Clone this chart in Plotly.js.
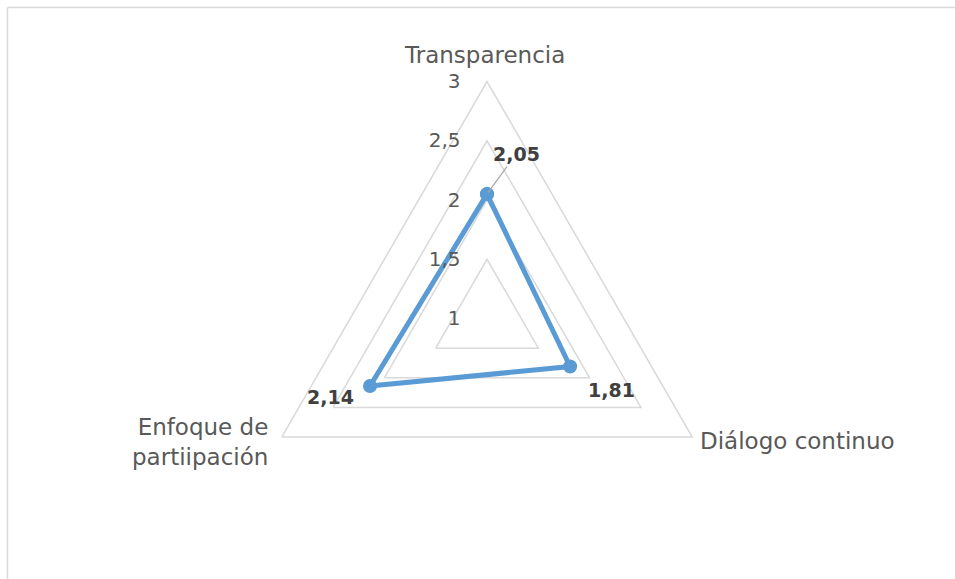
<!DOCTYPE html>
<html>
<head>
<meta charset="utf-8">
<script src="https://cdn.plot.ly/plotly-3.0.1.min.js"></script>
<style>html,body{margin:0;padding:0;background:#fff;}#chart{width:955px;height:579px;}</style>
</head>
<body>
<div id="chart"></div>
<script>
var categories = ['Transparencia', 'Diálogo continuo', 'Enfoque de partiipación'];
var categoryLabels = ['Transparencia', 'Diálogo continuo', 'Enfoque de<br>partiipación'];
var values = [2.05, 1.81, 2.14];
var valueLabels = ['2,05', '1,81', '2,14'];
var radialTicks = [1, 1.5, 2, 2.5, 3];

var W = 955, H = 579;
var cxPx = 487, cyPx = 318.5, Rpx = 237;
var rMin = 1, rMax = 3;
var domX = [(cxPx - Rpx) / W, (cxPx + Rpx) / W];
var domY = [1 - (cyPx + Rpx) / H, 1 - (cyPx - Rpx) / H];

// map a data value on category index i to paper coords (same polar geometry as the subplot)
function toPaper(r, i) {
  var ang = (90 - i * 360 / categories.length) * Math.PI / 180;
  var d = (r - rMin) / (rMax - rMin) * Rpx;
  return {x: (cxPx + d * Math.cos(ang)) / W, y: 1 - (cyPx - d * Math.sin(ang)) / H};
}

var thetaClosed = categories.concat([categories[0]]);
var rClosed = values.concat([values[0]]);

var trace = {
  type: 'scatterpolar',
  r: rClosed,
  theta: thetaClosed,
  mode: 'lines+markers',
  line: {color: '#5b9bd5', width: 5},
  marker: {color: '#5b9bd5', size: 14},
  hoverinfo: 'skip',
  showlegend: false
};

var FONT = 'DejaVu Sans, sans-serif';
var labelFont = {family: FONT, size: 19, color: '#404040'};
var catFont = {family: FONT, size: 23, color: '#595959'};
var p0 = toPaper(values[0], 0), p1 = toPaper(values[1], 1), p2 = toPaper(values[2], 2);
var v0 = toPaper(rMax, 0), v1 = toPaper(rMax, 1), v2 = toPaper(rMax, 2);
var annotations = [
  {x: p0.x, y: p0.y, xref: 'paper', yref: 'paper', text: '<b>' + valueLabels[0] + '</b>', font: labelFont,
   showarrow: true, arrowhead: 0, arrowwidth: 1.2, arrowcolor: '#a6a6a6', ax: 29, ay: -40, standoff: 2},
  {x: p1.x, y: p1.y, xref: 'paper', yref: 'paper', text: '<b>' + valueLabels[1] + '</b>', font: labelFont,
   showarrow: false, xshift: 41, yshift: -24},
  {x: p2.x, y: p2.y, xref: 'paper', yref: 'paper', text: '<b>' + valueLabels[2] + '</b>', font: labelFont,
   showarrow: false, xshift: -40, yshift: -23.5},
  {x: v0.x, y: v0.y, xref: 'paper', yref: 'paper', text: categoryLabels[0], font: catFont,
   showarrow: false, xanchor: 'center', yanchor: 'middle', xshift: -3, yshift: 26},
  {x: v1.x, y: v1.y, xref: 'paper', yref: 'paper', text: categoryLabels[1], font: catFont,
   showarrow: false, xanchor: 'left', yanchor: 'middle', xshift: 6, yshift: -4},
  {x: v2.x, y: v2.y, xref: 'paper', yref: 'paper', text: categoryLabels[2], font: catFont, align: 'right',
   showarrow: false, xanchor: 'right', yanchor: 'middle', xshift: -12, yshift: -4.5}
];

var layout = {
  width: W, height: H,
  margin: {l: 0, r: 0, t: 0, b: 0},
  paper_bgcolor: '#ffffff',
  separators: ',.',
  font: {family: FONT, size: 20, color: '#595959'},
  showlegend: false,
  polar: {
    domain: {x: domX, y: domY},
    bgcolor: 'rgba(0,0,0,0)',
    gridshape: 'linear',
    radialaxis: {
      range: [rMin, rMax],
      tickvals: radialTicks,
      angle: 90,
      side: 'counterclockwise',
      showline: false,
      showgrid: true,
      gridcolor: '#d9d9d9',
      gridwidth: 1.5,
      ticks: 'outside',
      ticklen: 19,
      tickangle: 90,
      tickcolor: 'rgba(0,0,0,0)',
      tickfont: {family: FONT, size: 20, color: '#595959'}
    },
    angularaxis: {
      type: 'category',
      categoryarray: categories,
      rotation: 90,
      direction: 'clockwise',
      showgrid: false,
      showline: true,
      showticklabels: false,
      linecolor: '#d9d9d9',
      linewidth: 1.5,
      ticks: ''
    }
  },
  annotations: annotations,
  shapes: [
    {type: 'line', xref: 'paper', yref: 'paper', x0: 7.5 / W, x1: 1, y0: 1 - 7.5 / H, y1: 1 - 7.5 / H, line: {color: '#d9d9d9', width: 1.5}},
    {type: 'line', xref: 'paper', yref: 'paper', x0: 7.5 / W, x1: 7.5 / W, y0: 0, y1: 1 - 7.5 / H, line: {color: '#d9d9d9', width: 1.5}}
  ]
};

Plotly.newPlot('chart', [trace], layout, {displayModeBar: false, staticPlot: true});
</script>
</body>
</html>
